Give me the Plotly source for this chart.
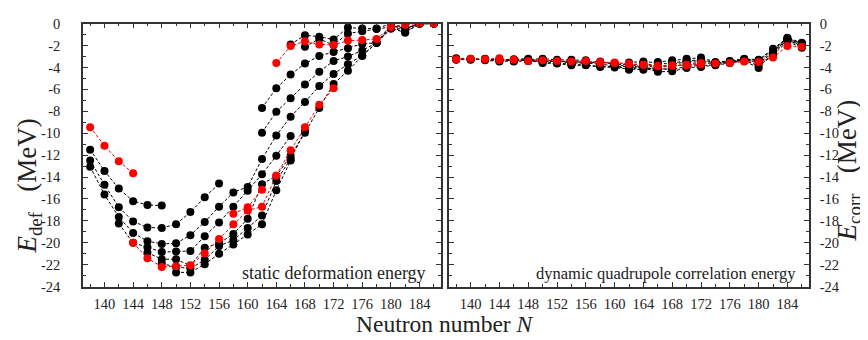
import plotly.graph_objects as go

N = list(range(138, 188, 2))
_ = None

# ---- left panel: static deformation energy (MeV) ----
def_b1 = [-11.5, -13.45, -15.05, -16.2, -16.55, -16.6, _, _, _, _, _, _, -7.7, -5.9, -4.65, -3.65, -2.95, -2.6, -2.25, -1.85, -1.75, -0.45, -0.8, 0.0, 0.0]
def_b2 = [-12.5, -14.7, -16.75, -18.05, -18.6, -18.65, -18.3, -17.2, -15.85, -14.6, _, _, -9.95, -8.05, -6.8, -5.55, -4.4, -3.4, -3.0, -2.45, -1.75, -0.45, -0.5, 0.0, 0.0]
def_b3 = [-13.05, -15.6, -17.65, -19.1, -19.85, -20.1, -20.05, -19.3, -18.1, -16.7, -15.4, -14.9, -12.35, -10.2, -8.5, -7.15, -5.7, -4.6, -3.7, -2.9, -1.75, -0.2, -0.45, 0.0, 0.0]
def_b4 = [_, _, -18.25, -20.0, -20.4, -20.85, -20.8, -20.75, -19.4, -18.15, -16.7, -15.25, -13.75, -12.05, -10.25, _, _, _, _, _, _, _, _, _, _]
def_b5 = [_, _, _, _, -20.9, -21.5, -21.5, -22.1, -20.45, -20.05, -19.2, -17.8, -14.65, -13.9, -12.05, -9.95, -7.7, -5.5, -4.3, -2.95, -1.75, -0.2, -0.45, 0.0, 0.0]
def_b6 = [_, _, _, _, _, -21.9, -22.2, -22.35, -21.55, -20.3, -19.75, -18.65, -17.5, -14.35, -12.35, -9.8, _, _, _, _, _, _, _, _, _]
def_b7 = [_, _, _, _, _, _, -22.7, -22.7, -21.95, -21.0, -20.15, -19.25, -18.3, -15.2, -12.5, _, _, _, _, _, _, _, _, _, _]
def_k1 = [_, _, _, _, _, _, _, _, _, _, _, _, _, _, -1.9, -1.05, -1.2, -1.45, -0.35, -0.45, -0.45, 0.0, -0.45, 0.0, 0.0]
def_k2 = [_, _, _, _, _, _, _, _, _, _, _, _, _, _, _, -2.1, -1.4, -1.95, -0.9, -0.7, -0.5, -0.3, -0.8, 0.0, 0.0]
def_r1 = [-9.45, -11.15, -12.55, -13.65, _, _, _, _, _, _, _, _, _, -3.6, -2.05, -1.6, -1.9, -1.95, -1.55, -1.5, -1.4, -0.3, -0.1, 0.0, 0.0]
def_r2 = [_, _, _, -20.0, -21.4, -22.2, -22.15, -22.05, -20.95, -19.65, -18.3, -17.05, -16.7, -13.85, -11.55, -9.45, -7.4, -5.9, _, _, _, _, _, _, _]
def_r3 = [_, _, _, _, _, _, _, _, _, _, -17.35, -16.75, -15.15, _, _, _, _, _, _, _, _, _, _, _, _]

# ---- right panel: dynamic quadrupole correlation energy (MeV) ----
corr_b1 = [-3.15, -3.2, -3.25, -3.3, -3.25, -3.2, _, _, _, _, _, _, -3.55, -3.45, -3.6, -3.7, -3.5, -3.35, -3.6, -3.5, -3.25, -3.35, -2.4, -1.35, -1.8]
corr_b2 = [-3.25, -3.3, -3.2, -3.4, -3.35, -3.3, -3.2, -3.3, -3.3, -3.35, _, _, -3.8, -3.6, -3.9, -3.95, -3.65, -3.55, -3.65, -3.45, -3.3, -3.55, -2.7, -1.5, -1.95]
corr_b3 = [-3.3, -3.25, -3.3, -3.3, -3.3, -3.35, -3.4, -3.45, -3.5, -3.5, -3.55, -3.6, -4.05, -3.75, -4.1, -4.2, -3.9, -3.8, -3.75, -3.55, -3.35, -3.85, -2.9, -1.6, -2.2]
corr_b4 = [_, _, -3.35, -3.45, -3.4, -3.3, -3.5, -3.4, -3.6, -3.6, -3.7, -3.85, -4.2, -3.9, -4.3, _, _, _, _, _, _, _, _, _, _]
corr_b5 = [_, _, _, _, -3.45, -3.4, -3.25, -3.5, -3.45, -3.55, -3.45, -3.75, -3.7, -4.0, -4.4, -4.35, -4.05, -3.95, -3.8, -3.6, -3.4, -4.05, -2.6, -1.45, -2.1]
corr_b6 = [_, _, _, _, _, -3.4, -3.55, -3.6, -3.7, -3.75, -3.9, -3.9, -3.9, -4.1, -4.2, -4.05, _, _, _, _, _, _, _, _, _]
corr_b7 = [_, _, _, _, _, _, -3.6, -3.65, -3.8, -3.8, -3.95, -4.0, -4.15, -4.2, -4.0, _, _, _, _, _, _, _, _, _, _]
corr_k1 = [_, _, _, _, _, _, _, _, _, _, _, _, _, _, -3.5, -3.35, -3.2, -3.1, -3.5, -3.4, -3.2, -3.3, -2.3, -1.3, -1.75]
corr_k2 = [_, _, _, _, _, _, _, _, _, _, _, _, _, _, _, -3.6, -3.4, -3.3, -3.55, -3.45, -3.3, -3.5, -2.5, -1.4, -1.85]
corr_r1 = [-3.25, -3.2, -3.25, -3.15, _, _, _, _, _, _, _, _, _, -3.75, -3.85, -3.8, -3.8, -3.6, -3.65, -3.6, -3.45, -3.5, -3.1, -2.05, -2.1]
corr_r2 = [_, _, _, -3.35, -3.3, -3.4, -3.35, -3.4, -3.45, -3.4, -3.6, -3.55, -3.7, -3.75, -3.9, -3.85, -3.75, -3.7, _, _, _, _, _, _, _]
corr_r3 = [_, _, _, _, _, _, _, _, _, _, -3.5, -3.6, -3.65, _, _, _, _, _, _, _, _, _, _, _, _]

black_def = [def_b1, def_b2, def_b3, def_b4, def_b5, def_b6, def_b7, def_k1, def_k2]
red_def = [def_r1, def_r2, def_r3]
black_corr = [corr_b1, corr_b2, corr_b3, corr_b4, corr_b5, corr_b6, corr_b7, corr_k1, corr_k2]
red_corr = [corr_r1, corr_r2, corr_r3]

x_ticks = [140, 144, 148, 152, 156, 160, 164, 168, 172, 176, 180, 184]
y_ticks = [0, -2, -4, -6, -8, -10, -12, -14, -16, -18, -20, -22, -24]

FONT = "Liberation Serif"
BLACK = "#000000"
RED = "#ff0000"
AXC = "#333333"
TXT = "#222222"

fig = go.Figure()

def add(series, color, xa, ya):
    for s in series:
        fig.add_trace(go.Scatter(
            x=N, y=s, xaxis=xa, yaxis=ya, mode="lines+markers",
            line=dict(color=color, width=1, dash="3px,2px"),
            marker=dict(color=color, size=8),
            connectgaps=False, showlegend=False, hoverinfo="skip"))

add(black_def, BLACK, "x", "y")
add(red_def, RED, "x", "y")
add(black_corr, BLACK, "x2", "y2")
add(red_corr, RED, "x2", "y2")

W, H = 868, 340
xd1 = [75 / W, 433 / W]
xd2 = [441 / W, 801 / W]
yd = [1 - 284 / H, 1 - 8 / H]

tickfont = dict(family=FONT, size=14.5, color=TXT)
xcommon = dict(range=[137, 187], tickmode="array", tickvals=x_ticks,
               ticktext=[str(v) for v in x_ticks], ticks="inside", ticklen=5,
               tickcolor=AXC, showline=True, linecolor=AXC, linewidth=1.5,
               mirror="allticks", showgrid=False, zeroline=False, tickfont=tickfont,
               ticklabelstandoff=3,
               minor=dict(tickvals=[v + 2 for v in x_ticks] + [138], ticks="inside",
                          ticklen=3, tickcolor=AXC, showgrid=False))
ycommon = dict(range=[-24, 0], tickmode="array", tickvals=y_ticks,
               ticktext=[str(v) for v in y_ticks], ticks="inside", ticklen=5,
               tickcolor=AXC, showline=True, linecolor=AXC, linewidth=1.5,
               mirror="allticks", showgrid=False, zeroline=False, tickfont=tickfont,
               minor=dict(tickvals=[v - 1 for v in y_ticks[:-1]], ticks="inside",
                          ticklen=3, tickcolor=AXC, showgrid=False))

def ann(text, x, y, size, angle=0, xanchor="center"):
    return dict(text=text, xref="paper", yref="paper", x=x / W, y=1 - y / H,
                xanchor=xanchor, yanchor="middle", textangle=angle, showarrow=False,
                font=dict(family=FONT, size=size, color=TXT))

fig.update_layout(
    width=W, height=H, margin=dict(l=0, r=0, t=0, b=0),
    paper_bgcolor="white", plot_bgcolor="white",
    font=dict(family=FONT, color=TXT),
    xaxis=dict(domain=xd1, anchor="y", **xcommon),
    yaxis=dict(domain=yd, anchor="x", side="left", ticklabelstandoff=18, **ycommon),
    xaxis2=dict(domain=xd2, anchor="y2", **xcommon),
    yaxis2=dict(domain=yd, anchor="x2", side="right", ticklabelstandoff=6, **ycommon),
    annotations=[
        ann("<i>E</i><sub>def</sub>&nbsp;&nbsp;&nbsp;(MeV)", 21, 179, 27, angle=-90),
        ann("<i>E</i><sub>corr</sub>&nbsp;&nbsp;&nbsp;(MeV)", 841, 162, 27, angle=-90),
        ann("Neutron number <i>N</i>", 437, 323, 23.5),
        ann("static deformation energy", 420, 270, 18, xanchor="right"),
        ann("dynamic quadrupole correlation energy", 790, 270, 16.5, xanchor="right"),
    ],
)

fig.write_html("out.html")
